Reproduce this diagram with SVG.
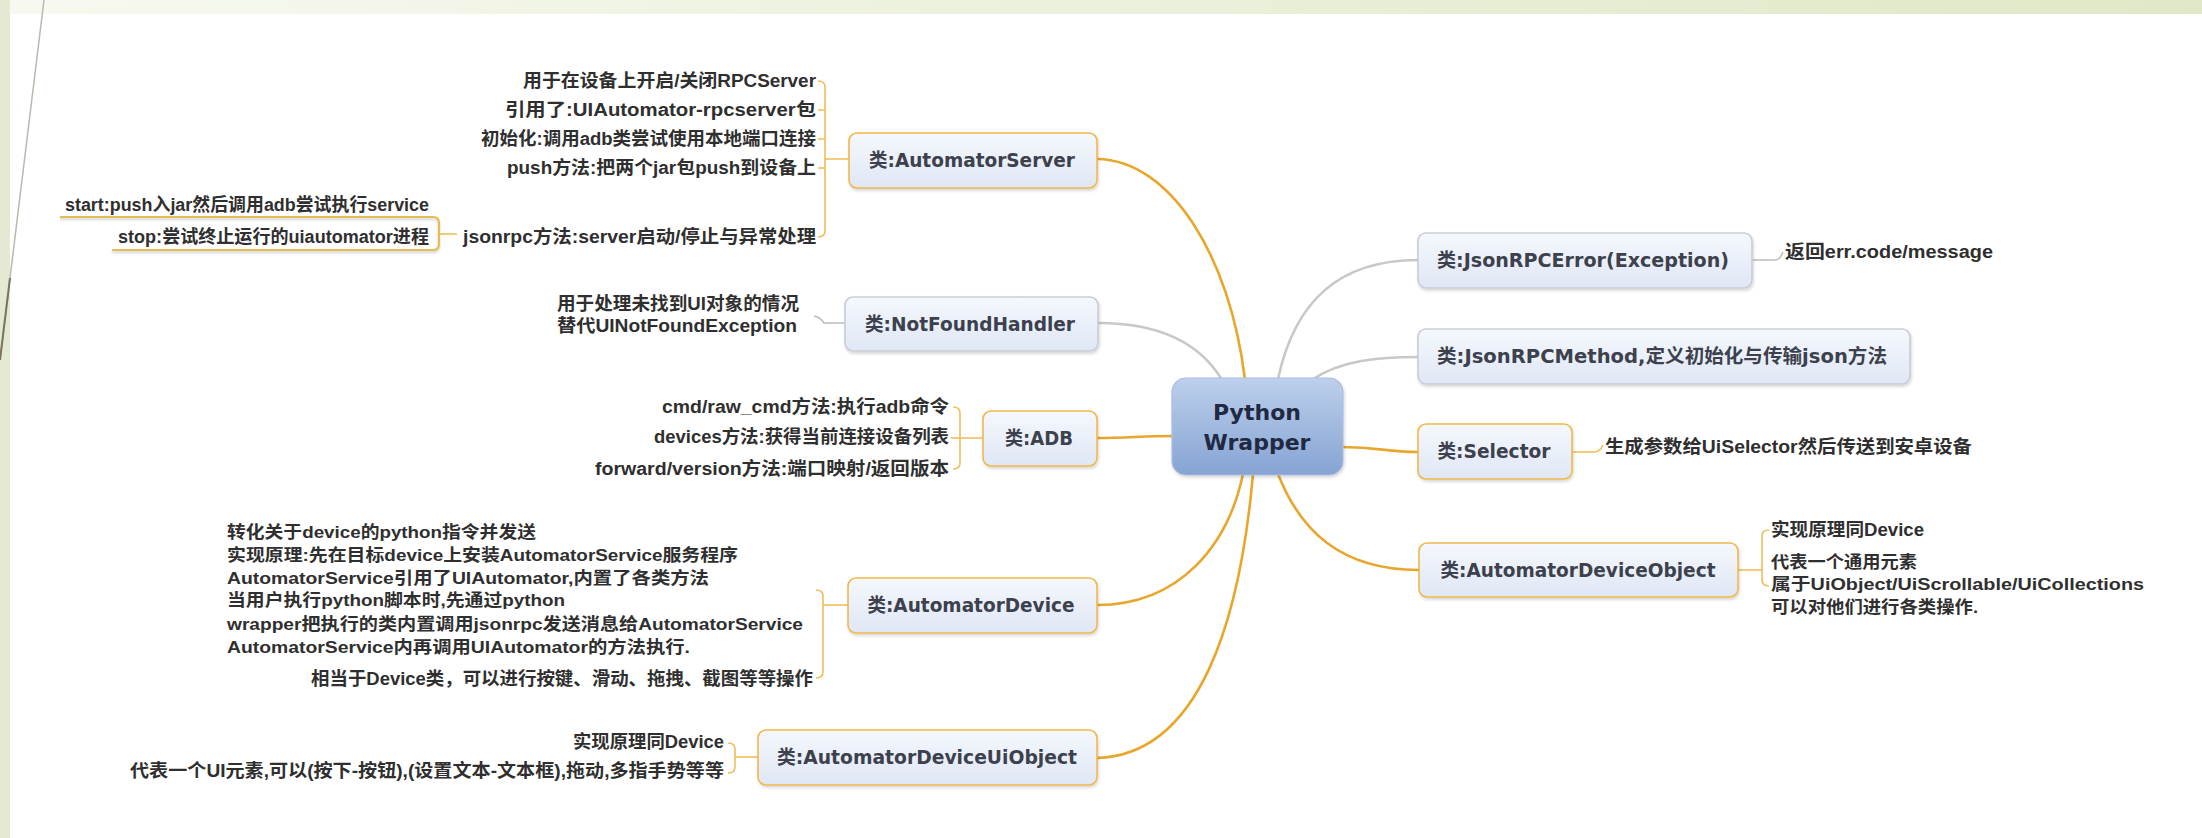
<svg xmlns="http://www.w3.org/2000/svg" width="2202" height="838" viewBox="0 0 2202 838">
  <defs>
    <linearGradient id="bandFill" x1="0" y1="0" x2="1" y2="0">
      <stop offset="0" stop-color="#f7f9f0"/>
      <stop offset="1" stop-color="#dfe8c6"/>
    </linearGradient>
    <linearGradient id="topicFill" x1="0" y1="0" x2="0" y2="1">
      <stop offset="0" stop-color="#f5f8fd"/>
      <stop offset="1" stop-color="#dfe7f5"/>
    </linearGradient>
    <linearGradient id="rootFill" x1="0" y1="0" x2="0" y2="1">
      <stop offset="0" stop-color="#bdd0ec"/>
      <stop offset="1" stop-color="#86a3d3"/>
    </linearGradient>
    <filter id="shadow" x="-10%" y="-30%" width="130%" height="170%">
      <feDropShadow dx="1" dy="2" stdDeviation="1.6" flood-color="#000" flood-opacity="0.16"/>
    </filter>
    <filter id="lineShadow" x="-5%" y="-200%" width="110%" height="500%">
      <feDropShadow dx="0" dy="2" stdDeviation="1.2" flood-color="#000" flood-opacity="0.18"/>
    </filter>
  </defs>
  <style>
    .co { fill: none; stroke: #e8a62c; stroke-width: 2.6; stroke-linecap: round; }
    .cg { fill: none; stroke: #c8c8c8; stroke-width: 2.6; stroke-linecap: round; }
    .bo { fill: none; stroke: #efbd57; stroke-width: 1.6; }
    .bg { fill: none; stroke: #bcbcbc; stroke-width: 1.6; }
    .ul { fill: none; stroke: #e6bd55; stroke-width: 2.2; }
    .box { fill: url(#topicFill); stroke-width: 1.6; filter: url(#shadow); }
    .box.o { stroke: #f0b84c; }
    .box.g { stroke: #c9cdd5; }
    .root { fill: url(#rootFill); stroke: #a9bddf; stroke-width: 1.2; filter: url(#shadow); }
    .rt { font-family: "DejaVu Sans", "Noto Sans CJK SC", sans-serif; font-weight: bold; font-size: 22px; fill: #1f2a42; text-anchor: middle; }
    .lbl { font-family: "DejaVu Sans", "Noto Sans CJK SC", sans-serif; font-weight: bold; font-size: 19px; fill: #3c414d; text-anchor: middle; }
    .sub { font-family: "Liberation Sans", "Noto Sans CJK SC", sans-serif; font-weight: bold; font-size: 18px; fill: #2f2f2f; }
    .blk { font-family: "Liberation Sans", "Noto Sans CJK SC", sans-serif; font-weight: bold; font-size: 17px; fill: #2f2f2f; }
    .end { text-anchor: end; }
  </style>

  <!-- page background -->
  <rect x="0" y="0" width="2202" height="838" fill="#ffffff"/>
  <rect x="0" y="0" width="2202" height="14" fill="url(#bandFill)"/>
  <rect x="0" y="0" width="10" height="838" fill="#e3e9d2"/>
  <line x1="44" y1="0" x2="0" y2="360" stroke="#b9b9ad" stroke-width="1.5"/>
  <line x1="10" y1="278" x2="0" y2="360" stroke="#7c7360" stroke-width="2"/>

  <!-- connectors -->
  <g id="connectors">
    <!-- main branches from the root -->
    <path class="co" d="M1097,159 C1170,160 1230,255 1245,380"/>
    <path class="cg" d="M1098,323 C1160,323 1200,343 1222,380"/>
    <path class="co" d="M1097,438 C1130,438 1140,436 1174,436"/>
    <path class="co" d="M1097,605 C1180,605 1228,545 1243,474"/>
    <path class="co" d="M1097,758 C1200,755 1240,620 1253,474"/>
    <path class="cg" d="M1278,379 C1295,300 1340,260 1418,260"/>
    <path class="cg" d="M1312,380 C1340,360 1380,357 1418,357"/>
    <path class="co" d="M1342,447 C1380,447 1385,452 1418,452"/>
    <path class="co" d="M1278,474 C1300,530 1340,570 1419,570"/>

    <!-- AutomatorServer details -->
    <path class="bo" d="M818,81 Q825,81 825,87 V231 Q825,237 818,237"/>
    <path class="bo" d="M818,110 H825 M818,139 H825 M818,168 H825 M825,159 H849"/>
    <!-- jsonrpc start / stop -->
    <g filter="url(#lineShadow)">
      <path class="ul" d="M60,217 H433 Q439,217 439,223 V244 Q439,250 433,250 H112"/>
    </g>
    <path class="bo" d="M439,234 H457"/>
    <!-- NotFoundHandler detail -->
    <path class="bg" d="M814,316 Q820,317 824,323 H845"/>
    <!-- ADB details -->
    <path class="bo" d="M953,407 Q960,407 960,413 V463 Q960,469 953,469"/>
    <path class="bo" d="M951,438 H983"/>
    <!-- AutomatorDevice details -->
    <path class="bo" d="M816,590 Q823,590 823,596 V672 Q823,678 816,678"/>
    <path class="bo" d="M823,605 H848"/>
    <!-- AutomatorDeviceUiObject details -->
    <path class="bo" d="M728,743 Q735,743 735,749 V767 Q735,773 728,773"/>
    <path class="bo" d="M735,757 H758"/>
    <!-- JsonRPCError detail -->
    <path class="bg" d="M1752,260 H1775 Q1780,260 1783,252"/>
    <!-- Selector detail -->
    <path class="bo" d="M1572,452 H1594 Q1600,452 1603,445"/>
    <!-- AutomatorDeviceObject details -->
    <path class="bo" d="M1769,530 Q1762,530 1762,536 V580 Q1762,586 1769,586"/>
    <path class="bo" d="M1738,570 H1762"/>
  </g>

  <!-- root -->
  <g id="python-wrapper">
    <rect class="root" x="1172" y="378" width="171" height="97" rx="14"/>
    <text class="rt" x="1257" y="420">Python</text>
    <text class="rt" x="1257" y="450">Wrapper</text>
  </g>

  <!-- left side -->
  <g id="automator-server">
    <rect class="box o" x="849" y="133" width="248" height="55" rx="8"/>
    <text class="lbl" x="972" y="167" textLength="206" lengthAdjust="spacingAndGlyphs">类:AutomatorServer</text>
  </g>
  <g id="automator-server-notes">
    <text class="sub end" x="816" y="87" textLength="293" lengthAdjust="spacingAndGlyphs">用于在设备上开启/关闭RPCServer</text>
    <text class="sub end" x="816" y="116" textLength="311" lengthAdjust="spacingAndGlyphs">引用了:UIAutomator-rpcserver包</text>
    <text class="sub end" x="816" y="145" textLength="335" lengthAdjust="spacingAndGlyphs">初始化:调用adb类尝试使用本地端口连接</text>
    <text class="sub end" x="816" y="174" textLength="309" lengthAdjust="spacingAndGlyphs">push方法:把两个jar包push到设备上</text>
    <text class="sub end" x="816" y="243" textLength="353" lengthAdjust="spacingAndGlyphs">jsonrpc方法:server启动/停止与异常处理</text>
  </g>
  <g id="jsonrpc-start">
    <text class="sub end" x="429" y="211" textLength="364" lengthAdjust="spacingAndGlyphs">start:push入jar然后调用adb尝试执行service</text>
  </g>
  <g id="jsonrpc-stop">
    <text class="sub end" x="429" y="243" textLength="311" lengthAdjust="spacingAndGlyphs">stop:尝试终止运行的uiautomator进程</text>
  </g>

  <g id="not-found-handler">
    <rect class="box g" x="845" y="297" width="253" height="54" rx="8"/>
    <text class="lbl" x="970" y="331" textLength="210" lengthAdjust="spacingAndGlyphs">类:NotFoundHandler</text>
  </g>
  <g id="not-found-handler-notes">
    <text class="sub" x="557" y="310" textLength="242" lengthAdjust="spacingAndGlyphs">用于处理未找到UI对象的情况</text>
    <text class="sub" x="557" y="332" textLength="240" lengthAdjust="spacingAndGlyphs">替代UINotFoundException</text>
  </g>

  <g id="adb">
    <rect class="box o" x="983" y="411" width="114" height="55" rx="8"/>
    <text class="lbl" x="1039" y="445" textLength="68" lengthAdjust="spacingAndGlyphs">类:ADB</text>
  </g>
  <g id="adb-notes">
    <text class="sub end" x="949" y="413" textLength="287" lengthAdjust="spacingAndGlyphs">cmd/raw_cmd方法:执行adb命令</text>
    <text class="sub end" x="949" y="443" textLength="295" lengthAdjust="spacingAndGlyphs">devices方法:获得当前连接设备列表</text>
    <text class="sub end" x="949" y="475" textLength="354" lengthAdjust="spacingAndGlyphs">forward/version方法:端口映射/返回版本</text>
  </g>

  <g id="automator-device">
    <rect class="box o" x="848" y="578" width="249" height="55" rx="8"/>
    <text class="lbl" x="971" y="612" textLength="207" lengthAdjust="spacingAndGlyphs">类:AutomatorDevice</text>
  </g>
  <g id="automator-device-notes">
    <text class="blk" x="227" y="538" textLength="309" lengthAdjust="spacingAndGlyphs">转化关于device的python指令并发送</text>
    <text class="blk" x="227" y="561" textLength="511" lengthAdjust="spacingAndGlyphs">实现原理:先在目标device上安装AutomatorService服务程序</text>
    <text class="blk" x="227" y="584" textLength="482" lengthAdjust="spacingAndGlyphs">AutomatorService引用了UIAutomator,内置了各类方法</text>
    <text class="blk" x="227" y="606" textLength="338" lengthAdjust="spacingAndGlyphs">当用户执行python脚本时,先通过python</text>
    <text class="blk" x="227" y="630" textLength="576" lengthAdjust="spacingAndGlyphs">wrapper把执行的类内置调用jsonrpc发送消息给AutomatorService</text>
    <text class="blk" x="227" y="653" textLength="463" lengthAdjust="spacingAndGlyphs">AutomatorService内再调用UIAutomator的方法执行.</text>
    <text class="sub end" x="813" y="685" textLength="502" lengthAdjust="spacingAndGlyphs">相当于Device类，可以进行按键、滑动、拖拽、截图等等操作</text>
  </g>

  <g id="automator-device-ui-object">
    <rect class="box o" x="758" y="730" width="339" height="55" rx="8"/>
    <text class="lbl" x="927" y="764" textLength="300" lengthAdjust="spacingAndGlyphs">类:AutomatorDeviceUiObject</text>
  </g>
  <g id="automator-device-ui-object-notes">
    <text class="sub end" x="724" y="748" textLength="151" lengthAdjust="spacingAndGlyphs">实现原理同Device</text>
    <text class="sub end" x="724" y="777" textLength="594" lengthAdjust="spacingAndGlyphs">代表一个UI元素,可以(按下-按钮),(设置文本-文本框),拖动,多指手势等等</text>
  </g>

  <!-- right side -->
  <g id="json-rpc-error">
    <rect class="box g" x="1418" y="233" width="334" height="55" rx="8"/>
    <text class="lbl" x="1583" y="267" textLength="292" lengthAdjust="spacingAndGlyphs">类:JsonRPCError(Exception)</text>
  </g>
  <g id="json-rpc-error-notes">
    <text class="sub" x="1785" y="258" textLength="208" lengthAdjust="spacingAndGlyphs">返回err.code/message</text>
  </g>

  <g id="json-rpc-method">
    <rect class="box g" x="1418" y="329" width="492" height="55" rx="8"/>
    <text class="lbl" x="1662" y="363" textLength="450" lengthAdjust="spacingAndGlyphs">类:JsonRPCMethod,定义初始化与传输json方法</text>
  </g>

  <g id="selector">
    <rect class="box o" x="1418" y="424" width="154" height="55" rx="8"/>
    <text class="lbl" x="1494" y="458" textLength="113" lengthAdjust="spacingAndGlyphs">类:Selector</text>
  </g>
  <g id="selector-notes">
    <text class="sub" x="1605" y="453" textLength="367" lengthAdjust="spacingAndGlyphs">生成参数给UiSelector然后传送到安卓设备</text>
  </g>

  <g id="automator-device-object">
    <rect class="box o" x="1419" y="543" width="319" height="54" rx="8"/>
    <text class="lbl" x="1578" y="577" textLength="275" lengthAdjust="spacingAndGlyphs">类:AutomatorDeviceObject</text>
  </g>
  <g id="automator-device-object-notes">
    <text class="sub" x="1771" y="536" textLength="153" lengthAdjust="spacingAndGlyphs">实现原理同Device</text>
    <text class="blk" x="1771" y="568" textLength="146" lengthAdjust="spacingAndGlyphs">代表一个通用元素</text>
    <text class="blk" x="1771" y="590" textLength="373" lengthAdjust="spacingAndGlyphs">属于UiObject/UiScrollable/UiCollections</text>
    <text class="blk" x="1771" y="613" textLength="207" lengthAdjust="spacingAndGlyphs">可以对他们进行各类操作.</text>
  </g>
</svg>
